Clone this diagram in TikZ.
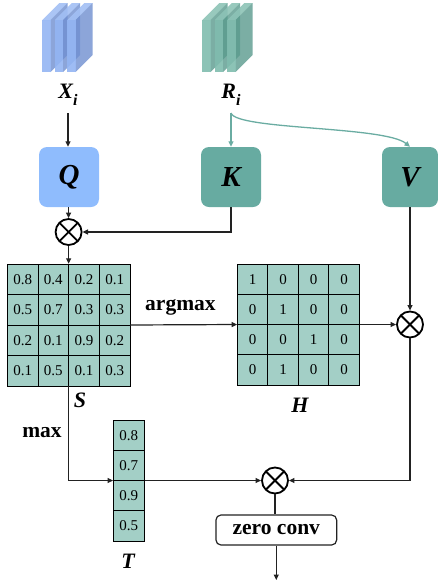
\documentclass[tikz,border=0pt]{standalone}
\usepackage{fontspec}
\setmainfont{Liberation Serif}
\usetikzlibrary{arrows.meta}

\definecolor{qblue}{HTML}{8FBCFD}
\definecolor{kteal}{HTML}{67ABA1}
\definecolor{cellfill}{HTML}{A3CFC6}
\definecolor{linkteal}{HTML}{6AACA2}
\definecolor{ink}{HTML}{222222}
\definecolor{bfront}{HTML}{93B5F3}
\definecolor{bside}{HTML}{6F8FD0}
\definecolor{btop}{HTML}{A2BFF4}
\definecolor{gfront}{HTML}{80BCAE}
\definecolor{gside}{HTML}{5A9A8D}
\definecolor{gtop}{HTML}{8DC3B6}

% a stack of three thin feature slabs, front-left corner of the first at x=#1
\newcommand\slabstack[4]{%
  \foreach \k in {0,1,2}{
    \pgfmathsetmacro\xa{#1+12.5*\k}
    \fill[#4,fill opacity=0.9] (\xa,20) -- ++(17,-17) -- ++(8.3,0) -- ++(-17,17) -- cycle;
    \fill[#3,fill opacity=0.8] (\xa+8.3,20) -- ++(17,-17) -- ++(0,52) -- ++(-17,17) -- cycle;
    \fill[#2,fill opacity=0.9] (\xa,20) rectangle ++(8.3,52);
  }}

\tikzset{
  flow/.style={line width=1.2pt, draw=ink},
  tealflow/.style={line width=1.3pt, draw=linkteal},
  tip/.style={-{Triangle[length=5.5pt,width=5pt]}},
  block/.style={rounded corners=8pt, minimum width=60pt, minimum height=60pt,
    inner sep=0pt, font=\fontsize{29}{29}\selectfont\bfseries\itshape},
  mult/.style={circle, draw=black, line width=1.8pt, minimum size=26pt, inner sep=0pt,
    path picture={
      \draw[line width=1.8pt] (path picture bounding box.south east) -- (path picture bounding box.north west);
      \draw[line width=1.8pt] (path picture bounding box.south west) -- (path picture bounding box.north east);}},
  cell/.style={draw=black, line width=0.9pt, fill=cellfill, inner sep=0pt,
    font=\fontsize{15}{15}\selectfont},
  boldlabel/.style={font=\fontsize{21.5}{21.5}\selectfont\bfseries, inner sep=0pt},
  varlabel/.style={font=\fontsize{22}{22}\selectfont\bfseries\itshape, inner sep=0pt},
}

\begin{document}
\begin{tikzpicture}[x=1pt,y=-1pt]
\useasboundingbox (0,0) rectangle (438,582);

% input feature stacks
\slabstack{42.3}{bfront}{bside}{btop}
\slabstack{202.3}{gfront}{gside}{gtop}
\node[varlabel] (Xi) at (68,95) {X\raisebox{-0.3em}{\fontsize{16}{16}\selectfont i}};
\node[varlabel] (Ri) at (231,95) {R\raisebox{-0.3em}{\fontsize{16}{16}\selectfont i}};
\coordinate (Rsplit) at (231,113);

% projections
\node[block, fill=qblue] (Q) at (69,177) {Q};
\node[block, fill=kteal] (K) at (231,177) {K};
\node[block, fill=kteal, minimum width=56pt] (V) at (410,177) {V};

\draw[flow,tip] (Xi |- Rsplit) -- (Q.north -| Xi);
\draw[tealflow,tip] (Rsplit) -- (K.north);
\draw[tealflow,tip] (Rsplit) .. controls (236,130) and (385,126) .. (V.north);

% products
\node[mult] (m1) at (68.6,232) {};
\node[mult] (m2) at (410,324.5) {};
\node[mult] (m3) at (275,480.5) {};

\draw[flow,tip] (Q.south -| m1) -- (m1.north);
\draw[flow,tip] (K.south) |- (m1.east);

% similarity matrix S
\node[inner sep=0pt, minimum width=122.7pt, minimum height=122pt] (S) at (68.65,325) {};
\foreach \row [count=\r] in {{0.8,0.4,0.2,0.1},{0.5,0.7,0.3,0.3},{0.2,0.1,0.9,0.2},{0.1,0.5,0.1,0.3}}{
  \foreach \v [count=\c] in \row {
    \node[cell, minimum width=30.67pt, minimum height=30.5pt] (S-\r-\c)
      at (7.3+30.67*\c-15.33, 264+30.5*\r-15.25) {\v};
  }}
\node[varlabel] (Slab) at (80,400) {S};

% hard selection matrix H
\node[inner sep=0pt, minimum width=122pt, minimum height=122pt] (H) at (298.3,324.5) {};
\foreach \row [count=\r] in {{1,0,0,0},{0,1,0,0},{0,0,1,0},{0,1,0,0}}{
  \foreach \v [count=\c] in \row {
    \node[cell, minimum width=30.5pt, minimum height=30.25pt] (H-\r-\c)
      at (237.3+30.5*\c-15.25, 264+30.25*\r-15.125) {\v};
  }}
\node[varlabel] (Hlab) at (300,405) {H};

% max vector T
\node[inner sep=0pt, minimum width=31pt, minimum height=121pt] (T) at (128.8,480.5) {};
\foreach \v [count=\r] in {0.8,0.7,0.9,0.5}{
  \node[cell, minimum width=31pt, minimum height=30.25pt] (T-\r)
    at (128.8, 420+30.25*\r-15.125) {\v};
}
\node[varlabel] (Tlab) at (128,561) {T};

% connections
\draw[flow,tip] (m1.south) -- (m1.south |- S.north);
\draw[flow,tip] (S.east) -- (H.west) node[boldlabel, pos=0.47, above=9pt] (argmax) {argmax};
\draw[flow,tip] (H.east) -- (m2.west);
\draw[flow,tip] (V.south) -- (m2.north);
\draw[flow,tip] (S.south) |- (T.west);
\node[boldlabel] (maxlab) at (42,433) {max};
\draw[flow,tip] (T.east) -- (m3.west);
\draw[flow,tip] (m2.south) |- (m3.east);

% output head
\node[draw=ink, line width=1.2pt, rounded corners=5pt, minimum width=120.7pt,
  minimum height=30pt, inner sep=0pt, font=\fontsize{21.5}{21.5}\selectfont\bfseries]
  (zc) at (276.3,530) {zero conv};
\coordinate (out) at (276.3,580);
\draw[flow] (m3.south) -- (m3.south |- zc.north);
\draw[flow,tip] (zc.south) -- (out);
\end{tikzpicture}
\end{document}
